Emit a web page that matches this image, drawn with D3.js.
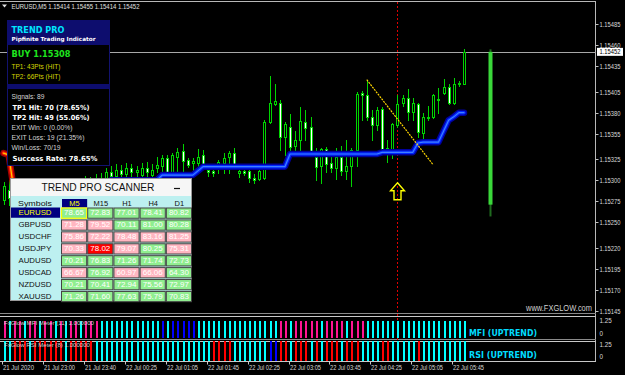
<!DOCTYPE html>
<html>
<head>
<meta charset="utf-8">
<script src="https://cdn.jsdelivr.net/npm/d3@7/dist/d3.min.js"></script>
<style>
  html, body { margin: 0; padding: 0; background: #000; }
  svg { display: block; font-family: "Liberation Sans", Arial, sans-serif; }
</style>
</head>
<body>
<svg id="chart" width="625" height="375"></svg>
<script>
// ---- data ----
// candles: open, high, low, close (EURUSD M5)
var candles = [
 [1.15276,1.15298,1.15272,1.15293],[1.15288,1.15300,1.15271,1.15279],[1.15279,1.15282,1.15262,1.15271],
 [1.15271,1.15281,1.15265,1.15276],[1.15276,1.15280,1.15260,1.15267],[1.15267,1.15278,1.15261,1.15273],
 [1.15273,1.15286,1.15269,1.15281],[1.15281,1.15288,1.15272,1.15276],[1.15276,1.15291,1.15273,1.15286],
 [1.15286,1.15293,1.15278,1.15282],[1.15282,1.15295,1.15279,1.15291],[1.15291,1.15297,1.15281,1.15287],
 [1.15287,1.15300,1.15284,1.15294],[1.15294,1.15299,1.15285,1.15290],[1.15290,1.15303,1.15286,1.15297],
 [1.15297,1.15301,1.15288,1.15293],[1.15293,1.15305,1.15290,1.15300],[1.15300,1.15304,1.15291,1.15295],
 [1.15295,1.15307,1.15292,1.15303],[1.15303,1.15308,1.15294,1.15299],[1.15303,1.15314,1.15298,1.15310],
 [1.15310,1.15317,1.15300,1.15305],[1.15305,1.15319,1.15301,1.15312],[1.15312,1.15318,1.15303,1.15307],
 [1.15307,1.15320,1.15304,1.15314],[1.15314,1.15319,1.15303,1.15310],[1.15310,1.15317,1.15305,1.15312],
 [1.15306,1.15320,1.15304,1.15314],[1.15314,1.15321,1.15305,1.15310],[1.15306,1.15319,1.15303,1.15312],
 [1.15314,1.15327,1.15310,1.15318],[1.15317,1.15330,1.15310,1.15326],[1.15326,1.15330,1.15304,1.15306],
 [1.15308,1.15332,1.15307,1.15330],[1.15327,1.15338,1.15310,1.15333],[1.15335,1.15343,1.15310,1.15323],
 [1.15324,1.15326,1.15316,1.15318],[1.15320,1.15326,1.15310,1.15323],[1.15320,1.15337,1.15310,1.15327],
 [1.15330,1.15336,1.15317,1.15318],[1.15312,1.15317,1.15305,1.15310],[1.15311,1.15314,1.15305,1.15308],
 [1.15319,1.15324,1.15308,1.15321],[1.15320,1.15332,1.15308,1.15326],[1.15327,1.15335,1.15308,1.15332],
 [1.15332,1.15338,1.15314,1.15319],[1.15308,1.15313,1.15304,1.15311],[1.15311,1.15312,1.15306,1.15308],
 [1.15311,1.15312,1.15298,1.15303],[1.15303,1.15307,1.15297,1.15300],[1.15301,1.15312,1.15300,1.15311],
 [1.15303,1.15371,1.15301,1.15369],[1.15369,1.15423,1.15368,1.15391],[1.15390,1.15414,1.15389,1.15394],
 [1.15391,1.15395,1.15336,1.15351],[1.15351,1.15369,1.15330,1.15366],[1.15363,1.15378,1.15332,1.15339],
 [1.15340,1.15358,1.15330,1.15348],[1.15348,1.15387,1.15336,1.15370],[1.15369,1.15383,1.15348,1.15362],
 [1.15363,1.15375,1.15330,1.15333],[1.15327,1.15338,1.15300,1.15316],[1.15317,1.15338,1.15297,1.15337],
 [1.15337,1.15339,1.15310,1.15319],[1.15320,1.15330,1.15310,1.15314],[1.15314,1.15338,1.15301,1.15327],
 [1.15327,1.15340,1.15306,1.15311],[1.15311,1.15348,1.15301,1.15317],[1.15317,1.15338,1.15293,1.15336],
 [1.15336,1.15404,1.15317,1.15402],[1.15403,1.15406,1.15371,1.15401],[1.15401,1.15419,1.15371,1.15375],
 [1.15375,1.15383,1.15348,1.15365],[1.15365,1.15387,1.15359,1.15383],[1.15384,1.15387,1.15333,1.15336],
 [1.15336,1.15348,1.15321,1.15338],[1.15336,1.15368,1.15326,1.15366],[1.15365,1.15401,1.15363,1.15390],
 [1.15391,1.15401,1.15388,1.15397],[1.15397,1.15408,1.15371,1.15381],[1.15381,1.15397,1.15371,1.15391],
 [1.15390,1.15391,1.15351,1.15357],[1.15356,1.15380,1.15348,1.15375],[1.15374,1.15388,1.15371,1.15375],
 [1.15375,1.15402,1.15374,1.15401],[1.15395,1.15409,1.15380,1.15396],[1.15403,1.15420,1.15402,1.15410],
 [1.15410,1.15414,1.15390,1.15391],[1.15391,1.15421,1.15390,1.15414],[1.15414,1.15417,1.15412,1.15415],
 [1.15414,1.15455,1.15414,1.15452]
];

// trend pro line: red (down) at the start, blue (up) afterwards
var trendDown = [1.15332, 1.15330, 1.15290];
var trendUp = [null, null,
 1.15262,1.15262,1.15262,1.15262,1.15262,1.15262,1.15262,1.15262,1.15262,
 1.15280,1.15280,1.15280,1.15280,1.15280,1.15280,1.15280,1.15280,1.15280,1.15280,
 1.15300,1.15300,1.15300,1.15300,1.15300,1.15300,1.15300,1.15300,1.15300,1.15300,
 1.15306,1.15306,1.15306,1.15306,1.15306,1.15306,1.15306,
 1.15311,
 1.15316,1.15316,1.15316,1.15316,1.15316,1.15316,1.15316,1.15316,1.15316,
 1.15316,1.15316,1.15316,1.15316,1.15316,1.15316,1.15316,1.15316,
 1.15331,1.15331,1.15331,1.15331,1.15331,1.15331,1.15331,1.15331,1.15331,
 1.15331,1.15331,1.15331,1.15331,1.15331,1.15331,1.15331,1.15331,1.15331,
 1.15333,1.15333,1.15333,1.15333,1.15333,1.15333,1.15333,
 1.15344,1.15345,1.15345,1.15345,1.15345,
 1.15358,1.15371,1.15375,1.15380,1.15380
];

var signalLine = [[71, 1.15419], [84, 1.15318]];   // yellow dotted line
var arrowBar = 77, arrowPrice = 1.15297;            // yellow buy arrow
var tpBar = 95, tpLevels = [1.15455, 1.15452, 1.15271, 1.15257];
var bidPrice = 1.15452;

var priceTicks = [1.15485,1.15460,1.15435,1.15405,1.15380,1.15355,1.15325,1.15300,
                  1.15275,1.15250,1.15220,1.15195,1.15170,1.15145];
var timeLabels = [[0,"21 Jul 2020"],[8,"21 Jul 23:00"],[16,"21 Jul 23:40"],[24,"22 Jul 00:25"],
                  [32,"22 Jul 01:05"],[40,"22 Jul 01:45"],[48,"22 Jul 02:25"],[56,"22 Jul 03:05"],
                  [64,"22 Jul 03:45"],[72,"22 Jul 04:25"],[80,"22 Jul 05:05"],[88,"22 Jul 05:45"]];

// meter histograms (M magenta, C cyan, B blue, R red), every bar = 1.0
var mfiColors = "MCMMCMMCMMCMCMMCMMM" + "CCCCCCCCCCCC" + "BCBBBBB" + "CCCCCCCCCCCCCCCC" +
                "MMCMMMMMCMMMMCMMM" + "CCCCCCCCCCCCCCCCCCCC";
var rsiColors = "CC" + "RRRCRRRRRRCRRRRR" + "CCCCCCCCCCCCCCCCCCCCCCC" + "RRRR" + "CCCCCCC" + "BB" +
                "RRCRRRCRCRRRCRRRC" + "CCC" + "RR" + "CCCCC" + "R" + "CCCCCCCCC";

// scanner table
var scanFrames = ["M5","M15","H1","H4","D1"];
var scanSymbols = ["EURUSD","GBPUSD","USDCHF","USDJPY","AUDUSD","USDCAD","NZDUSD","XAUUSD"];
var scanValues = [
 [78.65,72.83,77.01,78.41,80.82],
 [71.28,79.52,70.11,81.00,80.28],
 [75.86,72.22,78.48,83.16,81.25],
 [70.33,78.02,79.07,80.25,75.31],
 [70.21,76.83,71.26,71.74,72.73],
 [66.67,76.92,60.97,66.06,64.30],
 [70.21,70.41,72.94,75.56,72.97],
 [71.26,71.60,77.63,75.79,70.83]
];
var scanStates = ["GGGGG","PPGGG","PPPPP","PRPGP","GGGGG","PGPPG","GGGGG","GGGGG"];

var panelLines = [
 ["Signals: 89", false], ["TP1 Hit: 70 (78.65%)", true], ["TP2 Hit: 49 (55.06%)", true],
 ["EXIT Win: 0 (0.00%)", false], ["EXIT Loss: 19 (21.35%)", false], ["Win/Loss: 70/19", false],
 ["Success Rate: 78.65%", true]
];

// ---- drawing ----
var svg = d3.select("#chart");
var plotRight = 595.5;
var green = "#00d400";
var meterCol = {M: "#ff1493", C: "#00ffff", B: "#0000ff", R: "#ff0000"};
var scanCol = {G: "#90ee90", P: "#ffb6c1", R: "#ff0000"};

var x = d3.scaleLinear().domain([0, 90]).range([3.5, 464]);
var y = d3.scaleLinear().domain([1.15145, 1.15485]).range([311, 24]);
var mfiY = d3.scaleLinear().domain([0, 1]).range([338, 321]);
var rsiY = d3.scaleLinear().domain([0, 1]).range([360.5, 341]);

svg.append("rect").attr("width", 625).attr("height", 375).attr("fill", "#000");

// frame + separators
var frame = svg.append("g").attr("stroke", "#b8b8b8").attr("shape-rendering", "crispEdges");
frame.append("line").attr("x1", 0).attr("x2", plotRight).attr("y1", 1.5).attr("y2", 1.5);
frame.append("line").attr("x1", plotRight).attr("x2", plotRight).attr("y1", 1).attr("y2", 362);
[313.5, 316.5, 339.5, 341.5, 361.5].forEach(function(v){
    frame.append("line").attr("x1", 0).attr("x2", plotRight).attr("y1", v).attr("y2", v)
        .attr("stroke", v == 313.5 || v == 339.5 ? "#8a8a8a" : "#c8c8c8");
});

// vertical dotted red line at signal bar
svg.append("line")
    .attr("x1", Math.round(x(arrowBar)) + 0.5).attr("x2", Math.round(x(arrowBar)) + 0.5)
    .attr("y1", 2).attr("y2", 361)
    .attr("stroke", "#e00000").attr("stroke-dasharray", "2,2");

// bid line
svg.append("line").attr("x1", 0).attr("x2", plotRight)
    .attr("y1", Math.round(y(bidPrice)) + 0.5).attr("y2", Math.round(y(bidPrice)) + 0.5)
    .attr("stroke", "#a8a8a8").attr("shape-rendering", "crispEdges");

// candles
var candleG = svg.append("g").attr("shape-rendering", "crispEdges");
var cand = candleG.selectAll("g.c").data(candles).enter().append("g").attr("class", "c");
cand.append("line")
    .attr("x1", function(d, i){ return Math.round(x(i)) + 0.5; })
    .attr("x2", function(d, i){ return Math.round(x(i)) + 0.5; })
    .attr("y1", function(d){ return Math.round(y(d[1])); })
    .attr("y2", function(d){ return Math.round(y(d[2])) + 1; })
    .attr("stroke", green);
cand.append("rect")
    .attr("x", function(d, i){ return Math.round(x(i)) - 0.5; })
    .attr("y", function(d){ return Math.round(y(Math.max(d[0], d[3]))) + 0.5; })
    .attr("width", 2)
    .attr("height", function(d){
        return Math.max(0, Math.round(y(Math.min(d[0], d[3]))) - Math.round(y(Math.max(d[0], d[3]))));
    })
    .attr("fill", function(d){ return d[3] >= d[0] ? "#000" : "#fff"; })
    .attr("stroke", green);

// glowing trend lines
var lineGen = d3.line()
    .defined(function(d){ return d[1] != null; })
    .x(function(d){ return x(d[0]); })
    .y(function(d){ return y(d[1]); });
function glow(values, cols) {
    var pts = values.map(function(v, i){ return [i, v]; });
    [[6.5, cols[0]], [3.5, cols[1]], [1.2, cols[2]]].forEach(function(s){
        svg.append("path").attr("d", lineGen(pts)).attr("fill", "none")
            .attr("stroke", s[1]).attr("stroke-width", s[0])
            .attr("stroke-linejoin", "round").attr("stroke-linecap", "round");
    });
}
glow(trendDown, ["#a00000", "#ff2000", "#ffcc00"]);
glow(trendUp, ["#00009c", "#0028ff", "#3f80ff"]);

// yellow dotted signal line
svg.append("line")
    .attr("x1", x(signalLine[0][0])).attr("y1", y(signalLine[0][1]))
    .attr("x2", x(signalLine[1][0])).attr("y2", y(signalLine[1][1]))
    .attr("stroke", "#ffd700").attr("stroke-width", 1.2).attr("stroke-dasharray", "2,1");

// buy arrow
var ax = Math.round(x(arrowBar)) + 0.5, ay = y(arrowPrice);
svg.append("path")
    .attr("d", "M" + ax + "," + ay + " l7,8 h-3.5 v9 h-7 v-9 h-3.5 z")
    .attr("fill", "none").attr("stroke", "#ffff00").attr("stroke-width", 1.4);

// TP projection bar
var tx = Math.round(x(tpBar));
svg.append("line").attr("x1", tx + 0.5).attr("x2", tx + 0.5)
    .attr("y1", y(tpLevels[0])).attr("y2", y(tpLevels[3]))
    .attr("stroke", "#1f6b1f").attr("stroke-width", 2);
svg.append("rect").attr("x", tx - 1.5).attr("width", 4)
    .attr("y", y(tpLevels[1])).attr("height", y(tpLevels[2]) - y(tpLevels[1]))
    .attr("fill", "#3ad83a");

// price axis
var axisG = svg.append("g").attr("font-size", 6.3).attr("fill", "#d8d8d8");
priceTicks.forEach(function(p){
    var yy = Math.round(y(p)) + 0.5;
    axisG.append("line").attr("x1", plotRight).attr("x2", plotRight + 3).attr("y1", yy).attr("y2", yy)
        .attr("stroke", "#c0c0c0");
    axisG.append("text").attr("x", 599.5).attr("y", yy + 2.3).attr("textLength", 21)
        .attr("lengthAdjust", "spacingAndGlyphs").text(p.toFixed(5));
});
svg.append("rect").attr("x", 597).attr("y", y(bidPrice) - 4).attr("width", 26).attr("height", 8)
    .attr("fill", "#fff");
svg.append("text").attr("x", 599.5).attr("y", y(bidPrice) + 2.5).attr("font-size", 6.3)
    .attr("textLength", 21).attr("lengthAdjust", "spacingAndGlyphs").attr("fill", "#000")
    .text(bidPrice.toFixed(5));

// symbol header
svg.append("path").attr("d", "M2,4.5 h5 l-2.5,3 z").attr("fill", "#e0e0e0");
svg.append("text").attr("x", 11.5).attr("y", 8.8).attr("font-size", 7).attr("fill", "#e0e0e0")
    .attr("textLength", 128).attr("lengthAdjust", "spacingAndGlyphs")
    .text("EURUSD,M5  1.15414 1.15455 1.15414 1.15452");

// watermark
svg.append("text").attr("x", 592).attr("y", 311).attr("font-size", 8.5).attr("fill", "#d0d0d0")
    .attr("text-anchor", "end").attr("textLength", 66).attr("lengthAdjust", "spacingAndGlyphs")
    .text("www.FXGLOW.com");

// meter windows
function meter(colors, sc) {
    var g = svg.append("g").attr("shape-rendering", "crispEdges");
    g.selectAll("rect").data(colors.split("")).enter().append("rect")
        .attr("x", function(d, i){ return Math.round(x(i)) - 0.5; })
        .attr("width", 2.4)
        .attr("y", sc(1)).attr("height", sc(0) - sc(1))
        .attr("fill", function(d){ return meterCol[d]; });
}
meter(mfiColors, mfiY);
meter(rsiColors, rsiY);

svg.append("text").attr("x", 4).attr("y", 324.5).attr("font-size", 6).attr("fill", "#d0d0d0")
    .attr("textLength", 90).attr("lengthAdjust", "spacingAndGlyphs").text("FxGlow MFI Meter (11) 1.000000");
svg.append("text").attr("x", 4).attr("y", 346.5).attr("font-size", 6).attr("fill", "#d0d0d0")
    .attr("textLength", 86).attr("lengthAdjust", "spacingAndGlyphs").text("FxGlow RSI Meter (8) 1.000000");
svg.append("text").attr("x", 469).attr("y", 336).attr("font-size", 9).attr("font-weight", "bold")
    .attr("font-family", "DejaVu Sans").attr("fill", "#00dcff")
    .attr("textLength", 68).attr("lengthAdjust", "spacingAndGlyphs").text("MFI (UPTREND)");
svg.append("text").attr("x", 469).attr("y", 357.5).attr("font-size", 9).attr("font-weight", "bold")
    .attr("font-family", "DejaVu Sans").attr("fill", "#00dcff")
    .attr("textLength", 68).attr("lengthAdjust", "spacingAndGlyphs").text("RSI (UPTREND)");

[[323, "1.25"], [336, "0"], [346.5, "1.25"], [359, "0"]].forEach(function(t){
    svg.append("text").attr("x", 599.5).attr("y", t[0]).attr("font-size", 6.3).attr("fill", "#d8d8d8").text(t[1]);
});

// time axis
timeLabels.forEach(function(t){
    var tx0 = Math.round(x(t[0]) - 1.5) + 0.5;
    svg.append("line").attr("x1", tx0).attr("x2", tx0).attr("y1", 361).attr("y2", 364.5)
        .attr("stroke", "#c8c8c8");
    svg.append("text").attr("x", tx0 + 0.5).attr("y", 370).attr("font-size", 6.5).attr("fill", "#d8d8d8")
        .attr("textLength", 31).attr("lengthAdjust", "spacingAndGlyphs").text(t[1]);
});

// ---- Trend Pro info panel ----
var pnl = svg.append("g");
pnl.append("rect").attr("x", 7.5).attr("y", 20.5).attr("width", 102).attr("height", 145)
    .attr("fill", "#000").attr("stroke", "#12126e");
pnl.append("rect").attr("x", 7).attr("y", 20).attr("width", 103).attr("height", 25).attr("fill", "#0d0d6e");
pnl.append("rect").attr("x", 7).attr("y", 84).attr("width", 103).attr("height", 5).attr("fill", "#0d0d6e");
pnl.append("text").attr("x", 11.5).attr("y", 32.5).attr("font-family", "DejaVu Sans").attr("font-weight", "bold")
    .attr("font-size", 9.5).attr("fill", "#00e5ff").attr("textLength", 53).attr("lengthAdjust", "spacingAndGlyphs")
    .text("TREND PRO");
pnl.append("text").attr("x", 11.5).attr("y", 41.3).attr("font-family", "DejaVu Sans").attr("font-weight", "bold")
    .attr("font-size", 5.6).attr("fill", "#fff").attr("textLength", 84).attr("lengthAdjust", "spacingAndGlyphs")
    .text("Pipfinite Trading Indicator");
pnl.append("text").attr("x", 11.5).attr("y", 57).attr("font-family", "DejaVu Sans").attr("font-weight", "bold")
    .attr("font-size", 9).attr("fill", "#1ee61e").attr("textLength", 59).attr("lengthAdjust", "spacingAndGlyphs")
    .text("BUY 1.15308");
pnl.append("text").attr("x", 11.5).attr("y", 68.5).attr("font-size", 7).attr("fill", "#d4d400")
    .attr("textLength", 49).attr("lengthAdjust", "spacingAndGlyphs").text("TP1: 43Pts (HIT)");
pnl.append("text").attr("x", 11.5).attr("y", 78.8).attr("font-size", 7).attr("fill", "#d4d400")
    .attr("textLength", 49).attr("lengthAdjust", "spacingAndGlyphs").text("TP2: 66Pts (HIT)");
var lineLens = [33, 77, 77, 61, 73, 49, 85];
panelLines.forEach(function(l, i){
    pnl.append("text").attr("x", l[1] ? 12.5 : 11.5).attr("y", 99.3 + i * 10.2)
        .attr("font-family", l[1] ? "DejaVu Sans" : null)
        .attr("font-weight", l[1] ? "bold" : "normal")
        .attr("font-size", 7).attr("fill", l[1] ? "#fff" : "#d4d4d4")
        .attr("textLength", lineLens[i]).attr("lengthAdjust", "spacingAndGlyphs")
        .text(l[0]);
});

// ---- scanner ----
var sc = svg.append("g");
sc.append("rect").attr("x", 10.5).attr("y", 178.5).attr("width", 181).attr("height", 122)
    .attr("fill", "#bdf0f0").attr("stroke", "#9a9a9a");
sc.append("rect").attr("x", 11).attr("y", 179).attr("width", 180).attr("height", 17).attr("fill", "#f6f6f6");
sc.append("text").attr("x", 98).attr("y", 191).attr("text-anchor", "middle").attr("font-size", 10)
    .attr("fill", "#111").attr("textLength", 113).attr("lengthAdjust", "spacingAndGlyphs")
    .text("TREND PRO SCANNER");
sc.append("line").attr("x1", 174).attr("x2", 180).attr("y1", 188.5).attr("y2", 188.5)
    .attr("stroke", "#111").attr("stroke-width", 1.2);

var colX = d3.scaleBand().domain(scanFrames).range([61, 191]).paddingInner(0.04);
var rowY = d3.scaleBand().domain(scanSymbols).range([207.5, 301.2]).paddingInner(0.14);

sc.append("text").attr("x", 35).attr("y", 206).attr("text-anchor", "middle").attr("font-size", 7.5)
    .attr("fill", "#111").attr("textLength", 34).attr("lengthAdjust", "spacingAndGlyphs").text("Symbols");
scanFrames.forEach(function(f, j){
    if (j == 0) {
        sc.append("rect").attr("x", colX(f) + 1).attr("y", 199).attr("width", colX.bandwidth()).attr("height", 8.5)
            .attr("fill", "#000080");
    }
    sc.append("text").attr("x", colX(f) + colX.bandwidth() / 2 + 1).attr("y", 206)
        .attr("text-anchor", "middle").attr("font-size", 7.5)
        .attr("fill", j == 0 ? "#ffff00" : "#111").text(f);
});

scanSymbols.forEach(function(s, r){
    var ry = rowY(s), rh = rowY.bandwidth();
    if (r == 0) {
        sc.append("rect").attr("x", 11).attr("y", ry).attr("width", 49).attr("height", rh).attr("fill", "#000080");
    }
    sc.append("text").attr("x", 35).attr("y", ry + rh / 2 + 2.7).attr("text-anchor", "middle")
        .attr("font-size", 7.5).attr("fill", r == 0 ? "#ffff00" : "#111")
        .attr("textLength", 33).attr("lengthAdjust", "spacingAndGlyphs").text(s);
    scanFrames.forEach(function(f, j){
        var st = scanStates[r][j];
        sc.append("rect").attr("x", colX(f) + 0.5).attr("y", ry + 0.5)
            .attr("width", colX.bandwidth()).attr("height", rh)
            .attr("fill", scanCol[st])
            .attr("stroke", r == 0 && j == 0 ? "#ffff00" : "#444")
            .attr("stroke-width", r == 0 && j == 0 ? 1.2 : 1);
        sc.append("text").attr("x", colX(f) + colX.bandwidth() / 2 + 0.5).attr("y", ry + rh / 2 + 2.8)
            .attr("text-anchor", "middle").attr("font-size", 7).attr("fill", "#fff")
            .attr("textLength", 20).attr("lengthAdjust", "spacingAndGlyphs")
            .text(scanValues[r][j].toFixed(2));
    });
});
</script>
</body>
</html>
